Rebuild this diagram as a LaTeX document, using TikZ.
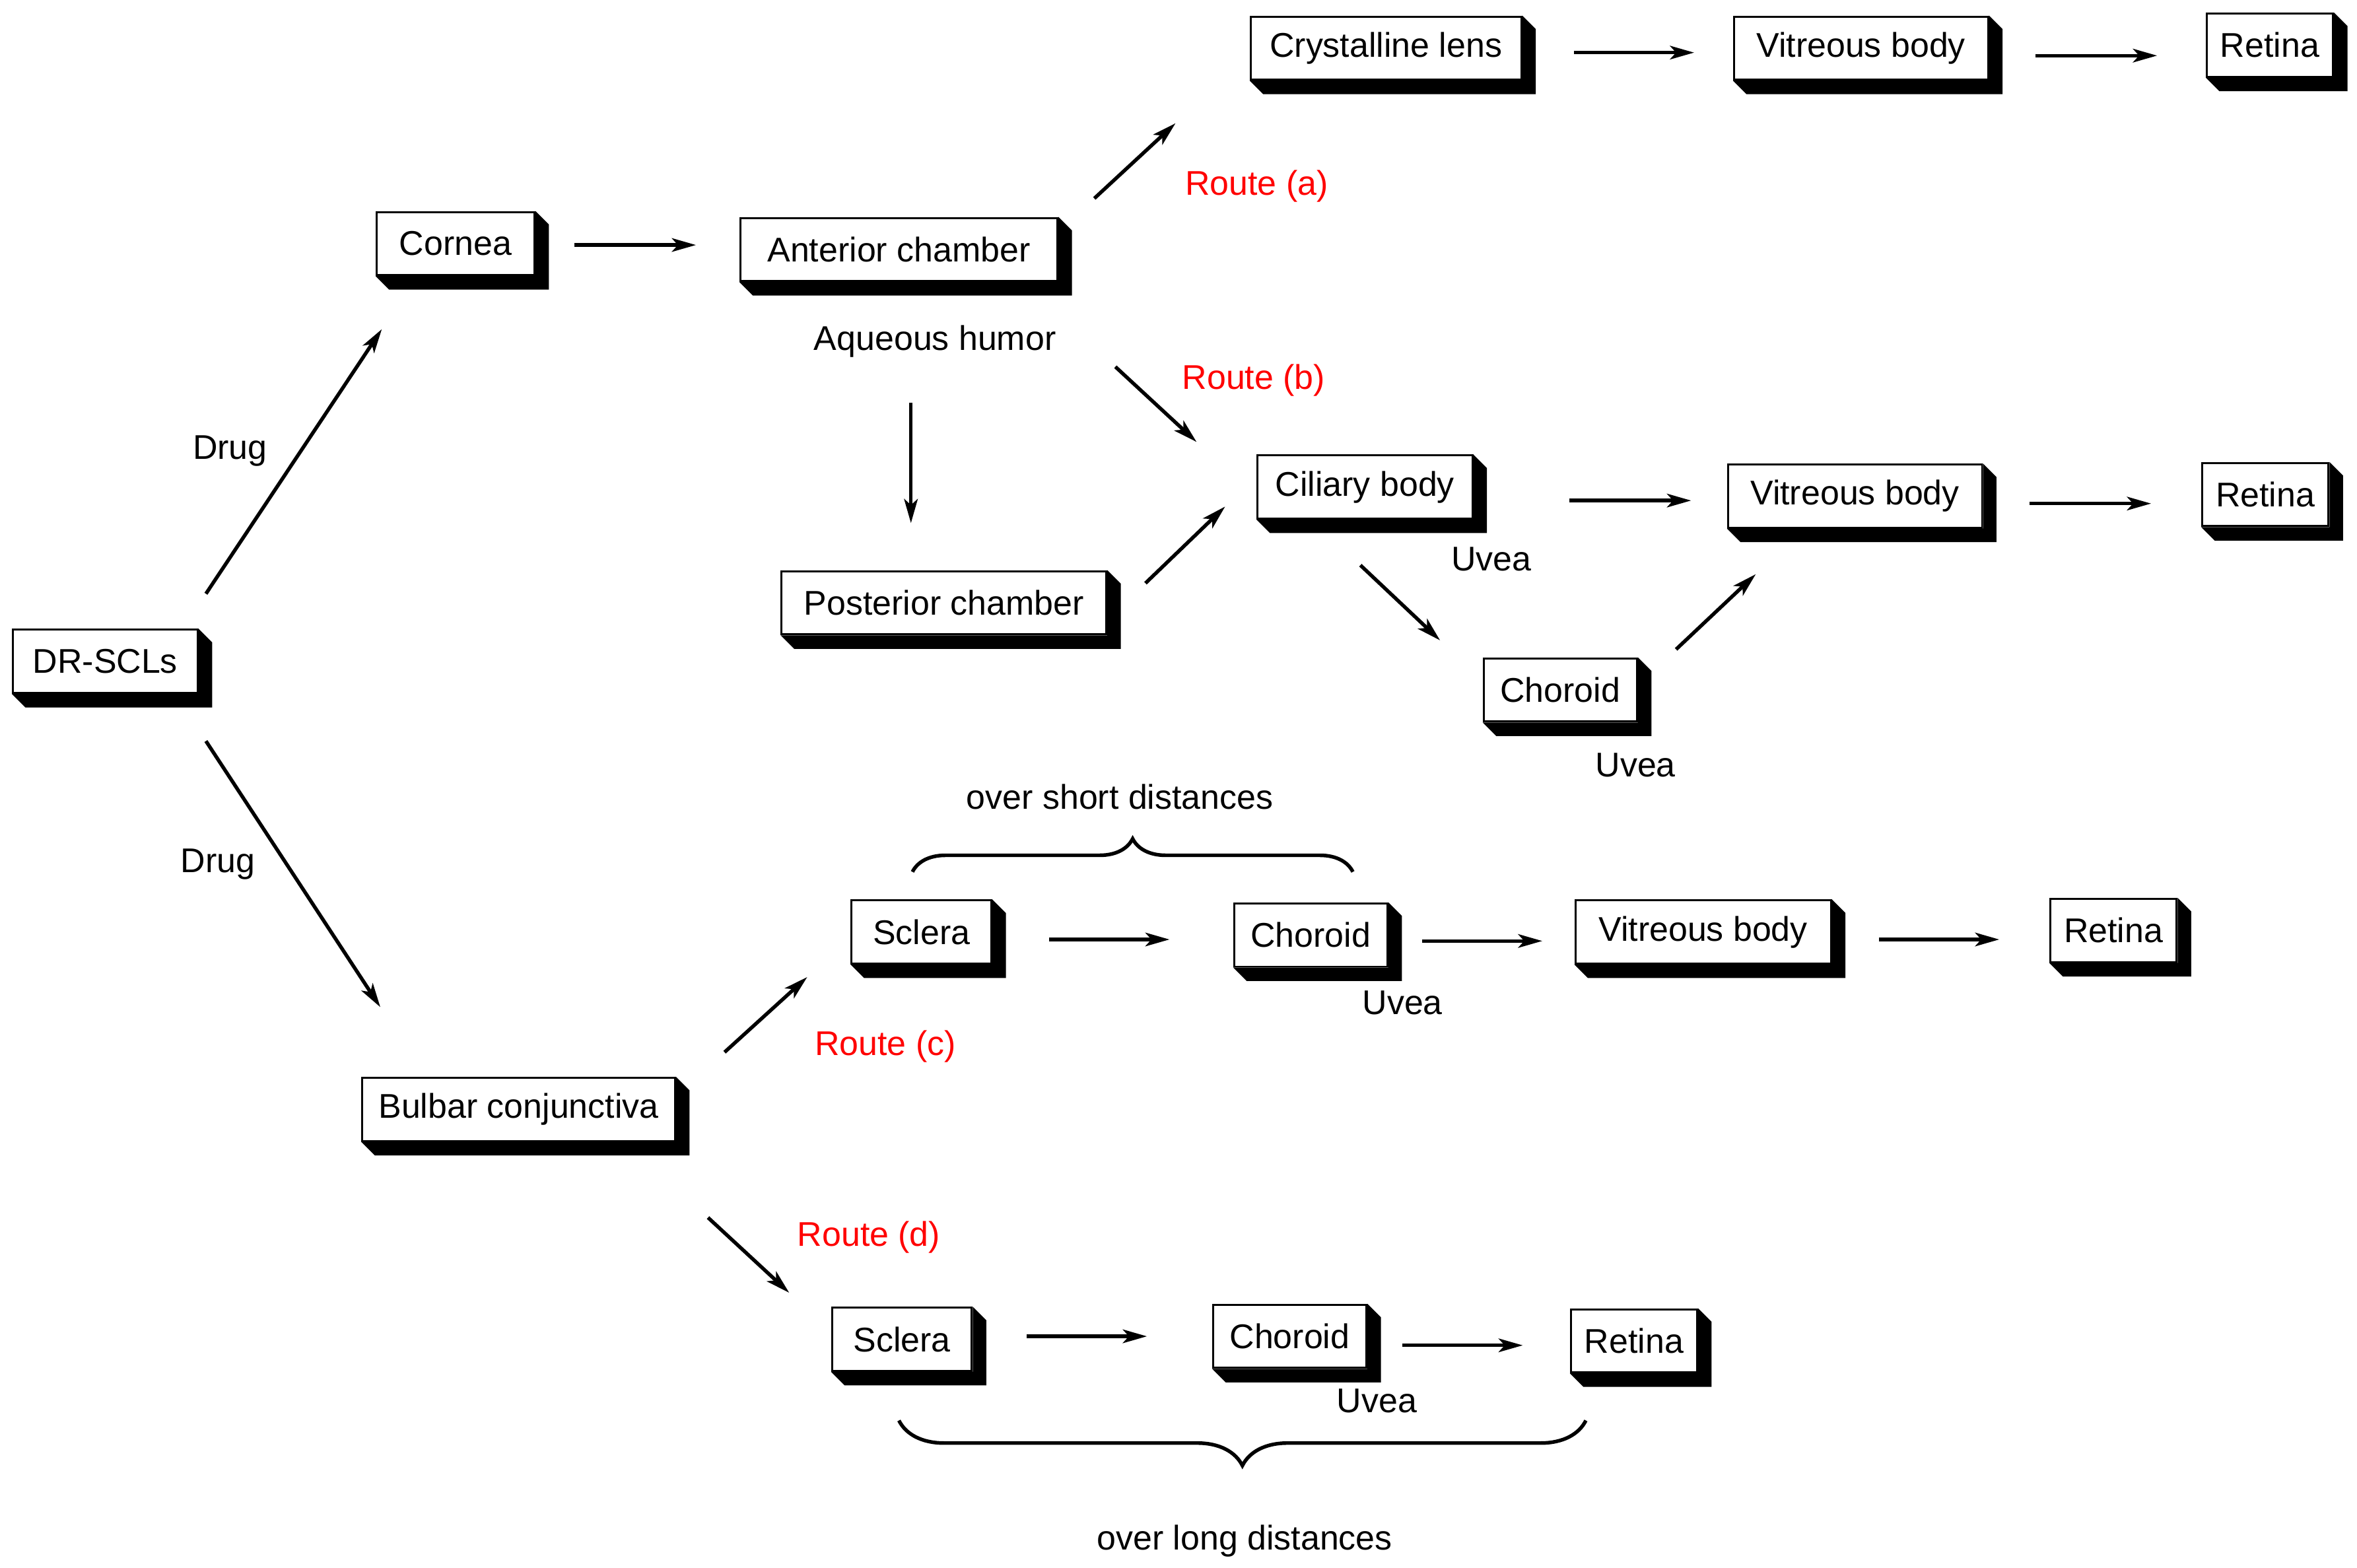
\documentclass[tikz,border=0pt]{standalone}
\usepackage{fontspec}
\setmainfont{Liberation Sans}
\usetikzlibrary{arrows.meta,decorations.pathreplacing}
\begin{document}
\begin{tikzpicture}[x=0.5pt,y=-0.5pt,
  every node/.style={font=\fontsize{11.4}{13}\selectfont},
  box/.style={draw,line width=0.65pt,fill=white,minimum height=21pt,inner sep=0pt},
  arr/.style={line width=1.2pt,-{Stealth[length=8pt,width=4.5pt,inset=2pt]}},
  lbl/.style={},
  rt/.style={text=red}]
\useasboundingbox (0,0) rectangle (1568,1043);
\newcommand\bx[4]{\node[box,minimum width=#3*0.5pt] (#1) at (#2) {#4};
  \fill (#1.south west) -- ([shift={(9,9)}]#1.south west) -- ([shift={(9,9)}]#1.south east) -- ([shift={(9,9)}]#1.north east) -- (#1.north east) -- (#1.south east) -- cycle;}
\newcommand\ar[3]{\coordinate (#1s) at (#2); \coordinate (#1e) at (#3); \draw[arr] (#1s) -- (#1e);}
\bx{dr}{70,440}{123}{DR-SCLs}
\bx{lens}{922,32}{180}{Crystalline lens}
\bx{vit1}{1238,32}{169}{Vitreous body}
\bx{ret1}{1510,30}{84}{Retina}
\bx{cor}{303,162}{105}{Cornea}
\bx{ant}{598,166}{211}{Anterior chamber}
\bx{cil}{908,324}{143}{Ciliary body}
\bx{vit2}{1234,330}{169}{Vitreous body}
\bx{ret2}{1507,329}{84}{Retina}
\bx{post}{628,401}{216}{Posterior chamber}
\bx{cho1}{1038,459}{102}{Choroid}
\bx{scl1}{613,620}{93}{Sclera}
\bx{cho2}{872,622}{102}{Choroid}
\bx{vit3}{1133,620}{170}{Vitreous body}
\bx{ret3}{1406,619}{84}{Retina}
\bx{bul}{345,738}{208}{Bulbar conjunctiva}
\bx{scl2}{600,891}{93}{Sclera}
\bx{cho3}{858,889}{102}{Choroid}
\bx{ret4}{1087,892}{84}{Retina}
\ar{a1}{382,163}{463,163}
\ar{a2}{1047,35}{1127,35}
\ar{a3}{1354,37}{1435,37}
\ar{a4}{728,132}{782,82}
\ar{a5}{742,244}{796,294}
\ar{a6}{606,268}{606,348}
\ar{a7}{762,388}{815,337}
\ar{a8}{1044,333}{1125,333}
\ar{a9}{1350,335}{1431,335}
\ar{a10}{905,376}{958,426}
\ar{a11}{1115,432}{1168,382}
\ar{a12}{137,395}{254,219}
\ar{a13}{137,493}{253,670}
\ar{a14}{698,625}{778,625}
\ar{a15}{946,626}{1026,626}
\ar{a16}{1250,625}{1330,625}
\ar{a17}{482,700}{537,650}
\ar{a18}{471,810}{525,860}
\ar{a19}{683,889}{763,889}
\ar{a20}{933,895}{1013,895}
\node[rt] (ra) at (836,124) {Route (a)};
\node[rt] (rb) at (834,253) {Route (b)};
\node[rt] (rc) at (589,696) {Route (c)};
\node[rt] (rd) at (578,823) {Route (d)};
\node (aq) at (622,227) {Aqueous humor};
\node (u1) at (992,372) {Uvea};
\node (u2) at (1088,509) {Uvea};
\node (u3) at (933,667) {Uvea};
\node (u4) at (916,932) {Uvea};
\node (d1) at (153,300) {Drug};
\node (d2) at (145,575) {Drug};
\node (osd) at (745,530) {over short distances};
\node (old) at (828,1025) {over long distances};
\coordinate (b1a) at (607,580); \coordinate (b1b) at (900,580);
\draw[line width=1.2pt,decorate,decoration={brace,amplitude=11pt}] (b1a) -- (b1b);
\coordinate (b2a) at (1055,945); \coordinate (b2b) at (598,945);
\draw[line width=1.2pt,decorate,decoration={brace,amplitude=15pt}] (b2a) -- (b2b);
\end{tikzpicture}
\end{document}
